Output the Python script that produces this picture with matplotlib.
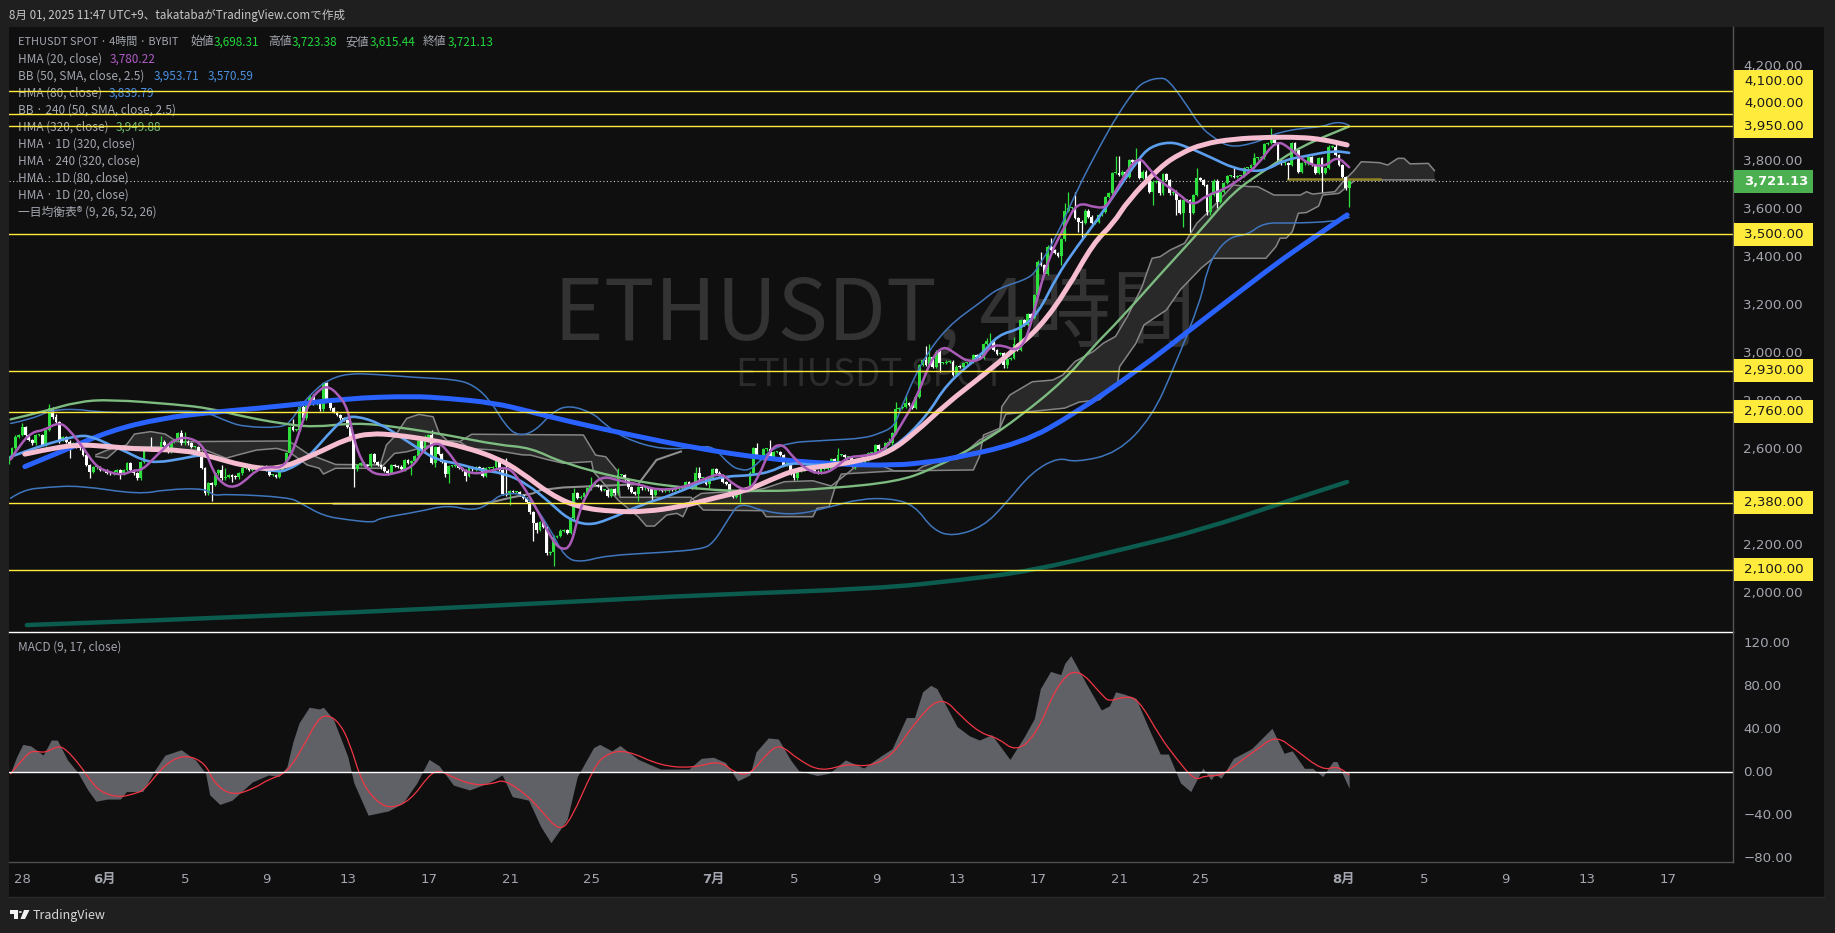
import matplotlib
matplotlib.use("Agg")
import matplotlib.pyplot as plt
from matplotlib.patches import Rectangle, Polygon, Circle, PathPatch
from matplotlib.path import Path
from matplotlib.transforms import ScaledTranslation

W, H = 1835, 933
JP = ["Noto Sans CJK JP", "DejaVu Sans"]
AX_FONT = ["DejaVu Sans", "Noto Sans CJK JP"]

# 4h closes, left to right
closes = [
    2572, 2607, 2656, 2663, 2697, 2663, 2642, 2628, 2663, 2663, 2621, 2684, 2774, 2736, 2718, 2642,
    2653, 2635, 2621, 2628, 2614, 2607, 2579, 2537, 2510, 2528, 2528, 2517, 2517, 2506, 2503, 2510,
    2517, 2503, 2517, 2544, 2517, 2503, 2482, 2551, 2607, 2607, 2603, 2607, 2600, 2635, 2621, 2593,
    2635, 2642, 2670, 2628, 2635, 2628, 2614, 2614, 2593, 2524, 2419, 2461, 2454, 2503, 2517, 2482,
    2489, 2496, 2489, 2486, 2503, 2524, 2528, 2517, 2528, 2524, 2531, 2533, 2517, 2496, 2496, 2489,
    2517, 2531, 2586, 2697, 2684, 2684, 2781, 2732, 2795, 2823, 2795, 2795, 2770, 2878, 2809, 2774,
    2760, 2746, 2732, 2725, 2697, 2642, 2519, 2537, 2544, 2537, 2533, 2583, 2551, 2537, 2528, 2514,
    2506, 2537, 2533, 2531, 2519, 2558, 2547, 2554, 2575, 2638, 2600, 2638, 2663, 2547, 2614, 2583,
    2551, 2500, 2533, 2533, 2533, 2524, 2517, 2493, 2528, 2519, 2528, 2524, 2493, 2524, 2524, 2528,
    2554, 2517, 2417, 2412, 2429, 2426, 2426, 2412, 2400, 2385, 2340,
    2294, 2267, 2301, 2280, 2169, 2176, 2239, 2242, 2264, 2267, 2253, 2315, 2419, 2399, 2406, 2419,
    2440, 2454, 2454, 2450, 2433, 2433, 2408, 2436, 2419, 2496, 2496, 2478, 2444, 2426, 2417, 2447,
    2440, 2440, 2436, 2413, 2433, 2433, 2429, 2429, 2436, 2433, 2440, 2440, 2444, 2468, 2450, 2444,
    2503, 2482, 2482, 2458, 2482, 2521, 2506, 2496, 2468, 2458, 2426, 2406, 2413, 2433, 2433, 2440,
    2506, 2607, 2572, 2565, 2603, 2603, 2572, 2593, 2593, 2579, 2538, 2556, 2503, 2482, 2514, 2517,
    2520, 2524, 2517, 2510, 2506, 2520, 2520, 2520, 2561, 2538, 2579, 2579, 2572, 2572, 2533, 2552,
    2547, 2547, 2558, 2586, 2586, 2621, 2603, 2603, 2628, 2628, 2670,
    2770, 2775, 2781, 2795, 2788, 2775, 2823, 2955, 2976, 2955, 2987, 2948, 3011, 2962, 2962, 2969,
    2969, 2914, 2948, 2946, 2962, 2962, 2969, 2997, 2990, 2983, 3043, 3053, 3053, 3018, 3001, 3004,
    2955, 2979, 2983, 3043, 3018, 3143, 3122, 3168, 3150, 3247, 3386, 3372, 3335, 3449, 3435, 3421,
    3410, 3479, 3599, 3609, 3609, 3567, 3553, 3549, 3599, 3574, 3549, 3553, 3581, 3595, 3657, 3671,
    3757, 3757,
    3748, 3762, 3741, 3810, 3803, 3810, 3734, 3762, 3727, 3678, 3720, 3723, 3671, 3752, 3727, 3671,
    3678, 3643, 3588, 3643, 3643, 3588, 3664, 3734, 3727, 3706, 3595, 3664, 3724, 3637, 3678, 3713,
    3744, 3744, 3741, 3744, 3744, 3776, 3776, 3789, 3817, 3817, 3821, 3877, 3880, 3894, 3880, 3808,
    3796, 3796, 3789, 3880, 3852, 3762, 3796, 3796, 3821, 3789, 3755, 3817, 3755, 3776, 3866, 3866,
    3831, 3789, 3738, 3692, 3721.13,
]
first_open = 2545
last_candle_day = 61.3

# the long wicks that stand out: candle index -> price
high_wicks = {
    4: 2714, 12: 2792, 13: 2770, 14: 2749, 42: 2653, 45: 2658, 51: 2683, 52: 2676, 63: 2538, 64: 2524,
    84: 2728, 86: 2806, 89: 2829, 90: 2834, 93: 2885, 123: 2663, 125: 2683, 147: 2565, 167: 2440,
    172: 2489, 180: 2524, 203: 2531, 204: 2528, 221: 2628, 225: 2642, 245: 2610, 260: 2649, 262: 2802,
    265: 2830, 271: 3034, 272: 3041, 289: 3067, 290: 3087, 297: 3073, 305: 3428, 308: 3484, 312: 3632,
    313: 3678, 315: 3678, 327: 3827, 328: 3827, 333: 3859, 351: 3775, 362: 3782, 368: 3838, 373: 3942,
    392: 3876, 396: 3723.38,
}
low_wicks = {
    15: 2628, 18: 2565, 24: 2485, 33: 2478, 38: 2482, 60: 2389, 66: 2468, 102: 2444, 112: 2496,
    119: 2496, 126: 2530, 129: 2489, 130: 2461, 135: 2472, 148: 2371, 155: 2222, 156: 2255, 159: 2162,
    161: 2118, 186: 2389, 190: 2392, 207: 2440, 216: 2382, 232: 2479, 250: 2520, 275: 2927, 279: 2909,
    294: 2941, 295: 2941, 311: 3372, 316: 3511, 317: 3484, 338: 3623, 345: 3581, 347: 3532, 349: 3511,
    354: 3581, 355: 3581, 357: 3609, 378: 3729, 388: 3678, 396: 3615.44,
}

# indicator lines: x is days from June 1, y is price
blue_days = [-3.9, -2.2, 0.3, 2.8, 5.2, 8.5, 12, 15.2, 16.9, 19.2, 21, 22.6, 25.9, 29.2, 32.5, 35.8, 39, 40.7,
             41.4, 45.2, 47.8, 50.8, 54, 57.3, 58.9, 61.2]
blue_vals = [2531, 2590, 2681, 2732, 2757, 2781, 2816, 2825, 2816, 2797, 2760, 2725, 2663, 2607, 2565, 2542, 2535,
             2552, 2559, 2628, 2753, 2927, 3136, 3352, 3449, 3581]

pink_days = [-3.9, -3, -1.3, 0.3, 1.9, 3.9, 5.2, 6.9, 8.5, 10.3, 12, 13.1, 14.4, 16.1, 17.7, 19.4, 20.5, 22, 23.4,
             25.1, 26.7, 28.4, 30, 31.7, 32.8, 34.1, 35.4, 37.4, 38.7, 39.9, 41.5, 43.2, 44.8, 46.1, 47.4, 48.7,
             49.7, 50.4, 52, 53, 54.1, 55.6, 57.3, 58.9, 60, 61.2]
pink_vals = [2583, 2600, 2624, 2614, 2603, 2600, 2575, 2533, 2517, 2579, 2649, 2670, 2663, 2642, 2614, 2565, 2510,
             2413, 2360, 2343, 2343, 2364, 2399, 2433, 2475, 2520, 2531, 2558, 2593, 2670, 2795, 2907, 3018, 3115,
             3268, 3463, 3546, 3640, 3782, 3838, 3877, 3898, 3905, 3905, 3896, 3873]

sky_days = [-4.6, -3.8, -2.7, -1.2, -0.5, 0.3, 1.1, 1.9, 2.6, 3.9, 4.9, 6.1, 7.2, 8.5, 9, 10, 11, 11.8, 12.4, 13.6,
            14.7, 15.6, 16.4, 17.4, 18.5, 19.7, 20.8, 22, 22.8, 23.8, 24.8, 26.4, 28, 30, 32.5, 33.8, 35.1, 37.4,
            38.9, 40.5, 41.5, 43.2, 44, 45.1, 46, 46.9, 47.9, 48.9, 49.9, 50.9, 51.5, 52.5, 53.3, 54.6, 55.6,
            56.6, 57.3, 58.1, 59.2, 60.5, 61.3]
sky_vals = [2572, 2597, 2628, 2663, 2653, 2621, 2593, 2558, 2547, 2565, 2583, 2551, 2528, 2510, 2514, 2565, 2663,
            2732, 2743, 2711, 2649, 2600, 2558, 2544, 2517, 2503, 2461, 2378, 2315, 2285, 2308, 2371, 2413, 2489,
            2496, 2551, 2533, 2558, 2607, 2740, 2879, 2997, 3080, 3105, 3171, 3324, 3449, 3560, 3685, 3810, 3866,
            3887, 3866, 3817, 3776, 3762, 3771, 3810, 3827, 3849, 3840]

purple_days = [-4.6, -4.1, -3.5, -3, -2.2, -1.7, -1, -0.4, 0.3, 0.9, 1.4, 1.9, 2.6, 3.4, 4.1, 4.9, 5.4, 5.9, 6.4,
               6.9, 7.5, 8.1, 8.7, 9.2, 9.7, 10.1, 10.6, 11, 11.5, 12, 12.3, 12.7, 13.1, 13.6, 14.2, 15.2, 15.7,
               16.4, 16.9, 17.5, 18.2, 19, 19.9, 20.5, 21.3, 22, 22.5, 23, 23.4, 24, 24.6, 25.4, 26.3, 27.2, 28.4,
               29.5, 30.4, 31, 31.7, 32.2, 32.8, 33.4, 33.9, 34.6, 35.3, 35.9, 36.6, 37.4, 38.4, 39.2, 40, 40.7,
               41.3, 41.9, 42.5, 43.2, 43.6, 44.2, 45, 45.5, 46, 46.6, 47.3, 47.9, 48.9, 49.4, 50, 50.9, 51.5, 52,
               52.9, 53.6, 54.3, 55.1, 56, 56.8, 57.7, 58.4, 59.2, 60.1, 60.7, 61.3]
purple_vals = [2561, 2628, 2677, 2681, 2718, 2684, 2607, 2531, 2506, 2496, 2514, 2517, 2579, 2642, 2656, 2621, 2503,
               2454, 2444, 2468, 2517, 2531, 2524, 2572, 2697, 2802, 2853, 2867, 2836, 2774, 2642, 2551, 2510, 2496,
               2499, 2528, 2600, 2635, 2600, 2524, 2499, 2512, 2533, 2468, 2357, 2232, 2183, 2197, 2350, 2454, 2492,
               2471, 2458, 2433, 2440, 2478, 2506, 2454, 2429, 2482, 2607, 2628, 2572, 2517, 2500, 2517, 2572, 2575,
               2593, 2698, 2816, 2976, 3036, 3004, 2969, 2976, 3032, 3039, 3011, 3080, 3254, 3421, 3532, 3636, 3609,
               3616, 3713, 3831, 3769, 3720, 3671, 3616, 3664, 3685, 3734, 3789, 3894, 3859, 3796, 3780, 3827, 3780]

green_days = [-4.6, -3, -1.3, 0.3, 3.6, 5.2, 6.9, 8.7, 10.3, 12.4, 14.4, 16.9, 19.4, 21, 22.6, 25.9, 29.2, 32.5,
              35.8, 39, 40.7, 43.2, 45.1, 47.3, 48.7, 50, 52.2, 54, 55.6, 57.3, 58.9, 61.3]
green_vals = [2728, 2760, 2802, 2811, 2790, 2774, 2739, 2711, 2695, 2714, 2697, 2663, 2621, 2610, 2545, 2472, 2436,
              2426, 2440, 2468, 2517, 2629, 2740, 2893, 3032, 3143, 3352, 3518, 3678, 3776, 3866, 3950]

teal_days = [-3.8, 9.3, 23.7, 29.4, 38.1, 42.2, 45.6, 50.2, 54, 58.3, 61.2]
teal_vals = [1870, 1910, 1970, 1995, 2022, 2058, 2095, 2187, 2266, 2388, 2467]

bb_up_days = [-4.6, -3.6, -2.6, -1.3, -0.5, 1.5, 3.3, 5, 6.1, 6.9, 8.7, 9.2, 9.7, 10.4, 11, 12, 13.4, 15.3, 17.3,
              18.2, 19, 19.8, 20.4, 21.2, 22.1, 22.9, 24.1, 24.6, 25.6, 27.5, 29.4, 30, 30.8, 31.3, 31.9, 33.1,
              35.8, 37.4, 38.2, 38.9, 39.2, 40.2, 41.5, 43.2, 44, 45.6, 46, 46.9, 47.9, 49.1, 49.9, 50.8, 51.3, 52,
              52.4, 53.2, 54, 54.6, 55.4, 56.5, 57.3, 57.8, 58.9, 60, 60.5, 61, 61.3]
bb_up_vals = [2711, 2728, 2767, 2771, 2760, 2755, 2764, 2760, 2718, 2697, 2693, 2719, 2788, 2851, 2892, 2920, 2916,
              2903, 2895, 2871, 2809, 2698, 2659, 2677, 2760, 2788, 2753, 2711, 2649, 2600, 2614, 2614, 2538, 2517,
              2517, 2628, 2642, 2649, 2670, 2698, 2768, 2962, 3115, 3219, 3275, 3317, 3365, 3491, 3685, 3880, 3998,
              4109, 4140, 4154, 4144, 4053, 3947, 3905, 3863, 3877, 3905, 3924, 3942, 3949, 3966, 3966, 3954]

bb_lo_days = [-4.6, -4, -2.8, -1.2, 1.7, 3.1, 5, 5.4, 6, 9.1, 9.7, 10.8, 12, 13.3, 13.5, 15.5, 16.9, 18.2, 19, 19.6,
              20.8, 21.9, 22.7, 23.5, 24.7, 27.5, 29.4, 30, 30.8, 31.3, 32.5, 34.1, 35.8, 37.2, 38.7, 39.9, 40.8,
              41.8, 43.3, 44.4, 45.7, 47, 47.8, 49.9, 51.6, 52.7, 54, 54.3, 54.8, 55.5, 56.3, 57.1, 58.4, 60.5, 61.1,
              61.3]
bb_lo_vals = [2399, 2434, 2445, 2452, 2415, 2436, 2440, 2409, 2417, 2403, 2378, 2325, 2309, 2297, 2315, 2343, 2371,
              2346, 2378, 2420, 2417, 2281, 2149, 2132, 2160, 2173, 2186, 2211, 2322, 2382, 2343, 2329, 2364, 2396,
              2399, 2371, 2267, 2239, 2281, 2378, 2510, 2570, 2548, 2587, 2739, 2948, 3226, 3352, 3435, 3491, 3498,
              3549, 3546, 3553, 3567, 3570]

span_a_days = [-0.4, 0.15, 0.7, 1.3, 2.7, 3.4, 5, 6, 6.6, 7.5, 8.5, 9.1, 10, 10.6, 10.8, 11.4, 13.6, 14.3, 14.9, 16.9,
               17.5, 18, 19.2, 20.6, 21, 21.8, 22.6, 24, 24.1, 25.3, 26.3, 26.7, 27.1, 27.7, 28.2, 28.5, 28.9, 29.4,
               30.7, 31.7, 32.5, 33.5, 34.9, 35.8, 36.7, 37, 38.2, 38.9, 40, 40.3, 41, 41.4, 42, 43.1, 44.1, 44.2,
               44.6, 45.7, 46.7, 47.2, 47.8, 48.7, 49.2, 49.8, 50.4, 51.1, 51.4, 51.6, 52, 52.5, 53.2, 53.8, 54.3,
               55.6, 56.4, 56.8, 57.6, 58.9, 59.2, 59.5, 60.6, 61, 61.5, 61.9, 62.8, 63.2, 63.7, 64, 64.3, 65.2, 65.5]
span_a_vals = [2573, 2566, 2607, 2614, 2614, 2600, 2600, 2566, 2580, 2600, 2607, 2593, 2538, 2524, 2500, 2524, 2524,
               2586, 2593, 2639, 2635, 2607, 2600, 2580, 2579, 2561, 2545, 2552, 2510, 2392, 2322, 2283, 2283, 2329,
               2336, 2322, 2392, 2419, 2426, 2426, 2440, 2468, 2472, 2450, 2510, 2531, 2538, 2513, 2513, 2531, 2552,
               2559, 2562, 2642, 2684, 2781, 2830, 2885, 2892, 2913, 2969, 3011, 3046, 3074, 3160, 3280, 3354, 3400,
               3407, 3435, 3463, 3546, 3588, 3706, 3699, 3699, 3664, 3664, 3678, 3668, 3678, 3720, 3762, 3803, 3799,
               3789, 3817, 3817, 3794, 3796, 3766]

span_b_days = [-0.4, 0.15, 1.1, 1.5, 2.3, 3, 3.6, 9.1, 10, 11.4, 13.6, 13.9, 14.3, 14.9, 15.5, 16.2, 16.5, 16.9, 17.5,
               18.1, 23.6, 24.2, 24.7, 25.3, 25.4, 28.9, 29.5, 32.4, 32.6, 34.9, 35.1, 35.7, 36, 36.3, 38.9, 42.8,
               43.1, 43.3, 44.1, 44.4, 47.3, 48, 49, 49.9, 50, 50.8, 51.2, 51.8, 52.3, 53, 54, 54.6, 57.2, 57.7, 57.9,
               58.2, 58.5, 58.8, 59.2, 59.8, 60, 60.8, 61.2, 61.6, 65.5]
span_b_vals = [2580, 2600, 2621, 2667, 2677, 2667, 2635, 2638, 2586, 2540, 2538, 2621, 2656, 2732, 2749, 2739, 2670,
               2639, 2635, 2666, 2663, 2579, 2572, 2510, 2403, 2403, 2350, 2347, 2322, 2322, 2357, 2364, 2447, 2500,
               2513, 2517, 2573, 2663, 2691, 2750, 2775, 2800, 2810, 2878, 2948, 3045, 3122, 3156, 3184, 3270, 3358,
               3400, 3400, 3449, 3484, 3484, 3511, 3588, 3591, 3618, 3664, 3671, 3699, 3727, 3727]

grey_days = [11.3, 18.5, 19.2, 20.1, 21.1, 21.5, 22.6, 25.1, 26.3, 27.2, 28.4]
grey_vals = [2376, 2375, 2385, 2403, 2419, 2433, 2444, 2453, 2458, 2559, 2594]

olive_days = [58.3, 62.8]
olive_vals = [3731, 3731]

level_prices = [4100, 4000, 3950, 3500, 2930, 2760, 2380, 2100]
price_ticks = [2000, 2200, 2400, 2600, 2800, 3000, 3200, 3400, 3600, 3800, 4200]
last_price = 3721.13

# MACD pane
macd_days = [-4.6, -4.3, -4, -3.6, -3, -2.6, -2.3, -1.8, -1.3, -0.8, -0.4, 0.15, 0.8, 1.1, 1.9, 2.5, 3, 3.8, 4.5, 5,
             5.2, 5.7, 6.3, 7.3, 8.1, 8.6, 9, 9.3, 9.6, 10.1, 10.6, 10.8, 11.3, 12, 12.3, 13, 14, 14.7, 15.4, 16, 16.5,
             17.2, 18, 18.9, 19.6, 20.1, 20.9, 21.5, 22, 22.8, 23.3, 24.1, 24.4, 25, 25.4, 26.3, 27.4, 28.8, 29.4,
             30, 30.6, 31.2, 31.8, 32.1, 32.7, 33.2, 33.8, 34.2, 35.1, 35.7, 36.5, 37.4, 38.2, 38.8, 39.5, 39.9,
             40.3, 40.7, 41, 42, 42.6, 43.1, 43.7, 44.6, 45.3, 45.8, 46.1, 46.6, 47.1, 47.3, 47.6, 48.3, 49.1, 49.5,
             49.8, 50.2, 50.8, 51.5, 52, 52.4, 53, 53.5, 54.1, 54.5, 54.7, 55, 55.6, 56.5, 57.5, 58.1, 58.5, 59.1,
             59.5, 60, 60.5, 60.7, 61.3]
macd_vals = [0, 14.6, 26, 24.5, 16, 30, 30, 11.5, 0, -16.5, -27, -25, -25, -18, -18, 2, 16, 21, 11.5, -1,
             -21, -30, -26, -9, -2.5, -4, 5, 28.6, 46, 60.6, 59, 60.6, 49, 14.6, -10, -40, -36, -29, -10, 12, 6,
             -12, -16.5, -10, -2.5, -22.7, -26, -50.6, -65.6, -44, -4, 23, 26, 20, 25, 12, 3, 3, 13,
             14, 9, -8, -2.5, 19, 32, 31, 11.5, 1.5, -3, -1, 11.5, 4, 14.6, 22, 51, 51,
             75, 81, 78, 42.6, 34, 30, 35, 12, 33, 50, 78, 94, 91, 101.6, 108.7, 84.5, 58, 62,
             75, 73, 69, 38, 17, 17, -10, -18, 4, -7, -1.5, -5.6, 13, 22, 41, 17.7, 20, 3.7,
             3.7, -4, 10, 10, -15]

signal_days = [-4.6, -3.8, -3.4, -2.9, -2.3, -1.9, -1.2, -0.7, -0.2, 0.7, 1.5, 2, 3, 4, 5, 5.4, 6.3, 7.4, 8.1, 9, 9.9,
               10.5, 11, 11.6, 12.1, 12.7, 13.4, 14.1, 15.1, 16, 16.5, 17.2, 18.2, 19.1, 19.7, 20.8, 21.5, 22.4, 23,
               24.1, 24.7, 25.7, 27.4, 29, 30.3, 31.1, 31.8, 32.7, 33.3, 34.2, 35.3, 36.6, 37.6, 38.8, 39.9, 41.2,
               42.3, 43.2, 44, 44.9, 45.9, 46.9, 47.9, 49.2, 49.5, 50.2, 50.9, 52, 52.7, 53.7, 54.2, 55, 55.8, 56.8,
               57.7, 58.6, 60, 60.7, 61.3]
signal_vals = [-1.5, 17.7, 20, 18, 24.5, 22, 7, -7, -18, -23.6, -20, -16.5, 7.8, 16.8, 8.4, -10, -22, -15, -6.5, -1, 27,
               49, 54, 46, 27, -10, -27, -34, -26, -2.5, 2, -5, -12, -11, -6.5, -21, -35, -55, -44,
               4, 17, 21, 6, 4, 11, -1, -2.5, 19, 26, 11.5, 0.6, 8, 5, 15, 46, 72,
               50, 36, 32, 19, 35, 81, 98.5, 70.5, 66, 70.5, 69, 33, 15, -8, -3, -3.4, 8, 22,
               34, 22, 1.5, 6, -2.5]
macd_ticks = [-80, -40, 0, 40, 80, 120]

date_ticks = [-4, 0, 4, 8, 12, 16, 20, 24, 30, 34, 38, 42, 46, 50, 54, 61, 65, 69, 73, 77]
date_labels = ["28", "6月", "5", "9", "13", "17", "21", "25", "7月", "5", "9", "13", "17", "21", "25", "8月",
               "5", "9", "13", "17"]

legend_rows = [
    "ETHUSDT SPOT · 4時間 · BYBIT", "HMA (20, close)", "BB (50, SMA, close, 2.5)", "HMA (80, close)",
    "BB · 240 (50, SMA, close, 2.5)", "HMA (320, close)", "HMA · 1D (320, close)", "HMA · 240 (320, close)",
    "HMA · 1D (80, close)", "HMA · 1D (20, close)", "一目均衡表® (9, 26, 52, 26)",
]

BG = "#1f1f1f"
PANE = "#0f0f0f"
TXT = "#a3a6af"
YEL = "#ffeb3b"
CANDLE_UP = "#2ddf3c"


def px_rect(x0, y0, x1, y1):
    return [x0 / W, 1 - y1 / H, (x1 - x0) / W, (y1 - y0) / H]


def curve(axis, xs, ys, color, lw, z):
    # rounded line through the read points, quadratic segments between midpoints
    pts = list(zip(xs, ys))
    verts = [pts[0]]
    codes = [Path.MOVETO]
    for i in range(1, len(pts) - 1):
        verts += [pts[i], ((pts[i][0] + pts[i + 1][0]) / 2, (pts[i][1] + pts[i + 1][1]) / 2)]
        codes += [Path.CURVE3, Path.CURVE3]
    verts.append(pts[-1])
    codes.append(Path.LINETO)
    axis.add_patch(PathPatch(Path(verts, codes), facecolor="none", edgecolor=color, lw=lw, capstyle="round", zorder=z))


fig = plt.figure(figsize=(W / 100, H / 100), dpi=100, facecolor=BG)
fig.add_artist(Rectangle((9 / W, 1 - 897 / H), 1815 / W, 870 / H, transform=fig.transFigure,
                         facecolor=PANE, edgecolor="none", zorder=-5))

ax = fig.add_axes(px_rect(9, 27, 1733, 632), zorder=1)
ax2 = fig.add_axes(px_rect(9, 632, 1733, 862), zorder=1, sharex=ax)
for a in (ax, ax2):
    a.set_facecolor("none")
    for s in a.spines.values():
        s.set_visible(False)
    a.yaxis.tick_right()
ax.set_xlim(-4.68, 80.2)
ax.set_ylim(1841, 4365)
ax2.set_ylim(-83.6, 130.7)

# watermark
ax.text(875 / W, 1 - 316 / H, "ETHUSDT, 4時間", transform=fig.transFigure, family=JP, fontsize=61,
        color="#333333", ha="center", va="center", zorder=0.5)
ax.text(870 / W, 1 - 376 / H, "ETHUSDT SPOT", transform=fig.transFigure, family=JP, fontsize=26.5,
        color="#2c2c2c", ha="center", va="center", zorder=0.5)

# cloud
ax.add_patch(Polygon(list(zip(span_a_days, span_a_vals)) + list(zip(span_b_days, span_b_vals))[::-1],
                     closed=True, facecolor="#292929", edgecolor="none", zorder=1))
ax.plot(span_a_days, span_a_vals, color="#858585", lw=1.1, zorder=1.2)
ax.plot(span_b_days, span_b_vals, color="#858585", lw=1.1, zorder=1.2)
ax.plot(grey_days, grey_vals, color="#8e8e8e", lw=1.5, zorder=1.3)
ax.plot(olive_days, olive_vals, color="#8d8324", lw=1.8, zorder=1.3)

# candles, each opens at the previous close
n = len(closes)
days = [last_candle_day - (n - 1 - i) / 6 for i in range(n)]
opens = [first_open] + closes[:-1]
for i in range(n):
    o, c = opens[i], closes[i]
    col = CANDLE_UP if c >= o else "#ffffff"
    top = max(o, c) + 5
    bot = min(o, c) - 5
    if i in high_wicks:
        top = max(top, high_wicks[i])
    if i in low_wicks:
        bot = min(bot, low_wicks[i])
    ax.plot([days[i], days[i]], [bot, top], color=col, lw=0.9, solid_capstyle="butt", zorder=2)
    h = max(abs(c - o), 4)
    ax.bar(days[i], h, bottom=min(o, c), width=0.14, color=col, linewidth=0, zorder=2.1)

# moving averages and bands
curve(ax, bb_up_days, bb_up_vals, "#3f76bd", 1.1, 3)
curve(ax, bb_lo_days, bb_lo_vals, "#3f76bd", 1.1, 3)
curve(ax, teal_days, teal_vals, "#0b5c4e", 3.2, 3)
curve(ax, green_days, green_vals, "#7dbb80", 1.7, 3.1)
curve(ax, blue_days, blue_vals, "#2962ff", 3.6, 3.2)
curve(ax, sky_days, sky_vals, "#5b9fee", 1.9, 3.3)
curve(ax, pink_days, pink_vals, "#f6bcd0", 3.6, 3.4)
curve(ax, purple_days, purple_vals, "#ab5bb8", 1.8, 3.5)

# levels and last price
for p in level_prices:
    ax.axhline(p, color=YEL, lw=1.0, zorder=4)
ax.axhline(last_price, color="#c8c8c8", lw=0.8, ls=(0, (1, 2.2)), zorder=1.5)

ax.set_yticks(price_ticks)
ax.set_yticklabels([f"{v:,.2f}" for v in price_ticks])
ax.tick_params(axis="y", length=0, pad=7.5, labelcolor=TXT, labelsize=9.6)
ax.tick_params(axis="x", length=0, labelbottom=False)
for lab in ax.get_yticklabels():
    lab.set_transform(lab.get_transform() + ScaledTranslation(0, 2 / 100, fig.dpi_scale_trans))

# legend, sits under the level lines
row_y = [41.7 + 17.05 * i for i in range(len(legend_rows))]


def legend_text(x, y, s, color=TXT, size=8.5):
    ax.text(x / W, 1 - y / H, s, transform=fig.transFigure, family=JP, fontsize=size, color=color,
            va="center", ha="left", zorder=3.9, clip_on=False)


for k, (y, s) in enumerate(zip(row_y, legend_rows)):
    legend_text(18, y, s, size=7.9 if k == 0 else 8.5)
for x, s, col in [(190, "始値", TXT), (214, "3,698.31", "#22d83a"), (268, "高値", TXT), (292, "3,723.38", "#22d83a"),
                  (345.6, "安値", TXT), (370, "3,615.44", "#22d83a"), (423, "終値", TXT), (448, "3,721.13", "#22d83a")]:
    legend_text(x, row_y[0], s, col)
legend_text(109.5, row_y[1], "3,780.22", "#b05cc4")
legend_text(154, row_y[2], "3,953.71", "#4a8fe0")
legend_text(208, row_y[2], "3,570.59", "#4a8fe0")
legend_text(109, row_y[3], "3,839.79", "#4a8fe0")
legend_text(115.6, row_y[5], "3,949.88", "#6dbb6f")
ax.text(9 / W, 1 - 15 / H, "8月 01, 2025 11:47 UTC+9、takatabaがTradingView.comで作成", transform=fig.transFigure,
        family=JP, fontsize=8.35, color="#c8c8c8", va="center", clip_on=False)

# MACD
ax2.fill_between(macd_days, macd_vals, 0, color="#5f6167", linewidth=0, zorder=1)
curve(ax2, signal_days, signal_vals, "#f23645", 0.9, 2)
ax2.axhline(0, color="#ffffff", lw=1.0, zorder=3)
ax2.set_yticks(macd_ticks)
ax2.set_yticklabels([f"{v:.2f}" if v >= 0 else f"\u2212{-v:.2f}" for v in macd_ticks])
ax2.tick_params(axis="y", length=0, pad=7.5, labelcolor=TXT, labelsize=9.6)
for lab in ax2.get_yticklabels():
    lab.set_transform(lab.get_transform() + ScaledTranslation(0, 1 / 100, fig.dpi_scale_trans))
ax2.set_xticks(date_ticks)
ax2.set_xticklabels(date_labels, family=AX_FONT)
ax2.tick_params(axis="x", length=0, pad=8, labelcolor=TXT, labelsize=9.5)
for lab in ax2.get_xticklabels():
    if "月" in lab.get_text():
        lab.set_fontweight("bold")
ax2.text(18 / W, 1 - 647 / H, "MACD (9, 17, close)", transform=fig.transFigure, family=JP, fontsize=8.5, color=TXT,
         va="center")

# pane borders
for yy, col, lw in [(632, "#ffffff", 1.0), (862, "#4f4f4f", 1.0)]:
    fig.add_artist(plt.Line2D([9 / W, 1733 / W], [1 - yy / H] * 2, color=col, lw=lw, zorder=5))
fig.add_artist(plt.Line2D([1733 / W] * 2, [1 - 27 / H, 1 - 862 / H], color="#555555", lw=1.0, zorder=5))
fig.add_artist(plt.Line2D([9 / W, 1824 / W], [1 - 897 / H] * 2, color="#2a2a2a", lw=1.0, zorder=5))

# price labels on the scale
px_per_usd = 0.2397
nudges = {4100: -9, 4000: -11, 3950: 0}
for p in level_prices:
    yc = 234.3 + (3500 - p) * px_per_usd
    if p not in nudges:
        fig.add_artist(Rectangle((1734 / W, 1 - (yc + 11.5) / H), 79 / W, 23 / H, transform=fig.transFigure,
                                 facecolor=YEL, edgecolor="none", zorder=6))
    fig.text(1744 / W, 1 - (yc + nudges.get(p, 0)) / H, f"{p:,.2f}", color="#1a1a1a", fontsize=9.6, va="center",
             zorder=7)
fig.add_artist(Rectangle((1734 / W, 1 - 137.7 / H), 79 / W, 67.7 / H, transform=fig.transFigure, facecolor=YEL,
                         edgecolor="none", zorder=6))
fig.add_artist(Rectangle((1734 / W, 1 - 193 / H), 79 / W, 23 / H, transform=fig.transFigure, facecolor="#4caf50",
                         edgecolor="none", zorder=6))
fig.text(1744 / W, 1 - 181.3 / H, f"{last_price:,.2f}", color="#ffffff", fontsize=9.4, va="center",
         fontweight="bold", zorder=7)

# footer logo
logo = "#f2f2f2"
fig.add_artist(Rectangle((10 / W, 1 - 913.5 / H), 7.5 / W, 3.5 / H, transform=fig.transFigure, color=logo, lw=0))
fig.add_artist(Rectangle((14 / W, 1 - 919 / H), 3.5 / W, 9 / H, transform=fig.transFigure, color=logo, lw=0))
fig.add_artist(Polygon([(24 / W, 1 - 910 / H), (29.5 / W, 1 - 910 / H), (25 / W, 1 - 919 / H), (20.5 / W, 1 - 919 / H)],
                       transform=fig.transFigure, color=logo, lw=0))
fig.add_artist(Circle((20.3 / W, 1 - 912 / H), 1.6 / W, transform=fig.transFigure, color=logo, lw=0))
fig.text(33 / W, 1 - 915 / H, "TradingView", color="#d8d8d8", fontsize=9, va="center", family=JP)

fig.savefig("out.png", dpi=100, facecolor=BG)
